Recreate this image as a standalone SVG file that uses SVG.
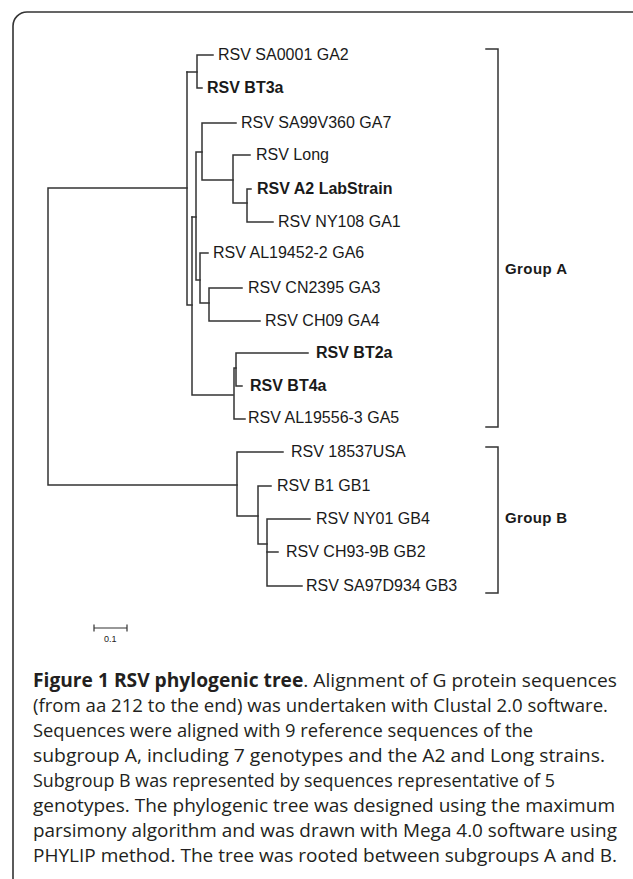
<svg xmlns="http://www.w3.org/2000/svg" width="633" height="879" viewBox="0 0 633 879">
<style>
.frame{fill:#fff;stroke:#333;stroke-width:1.6}
.br{fill:none;stroke:#333;stroke-width:1.5;stroke-linecap:square}
.lf{font-family:"Liberation Sans",Arial,sans-serif;font-size:16px;fill:#1a1a1a}
.b{font-weight:bold}
.grp{font-family:"Liberation Sans",Arial,sans-serif;font-size:15px;font-weight:bold;fill:#1a1a1a}
.cap{font-family:"Open Sans",sans-serif;font-size:19px;fill:#231f20}
.sc{font-family:"Liberation Sans",Arial,sans-serif;font-size:9px;fill:#222}
</style>
<rect class="frame" x="13" y="12" width="660" height="900" rx="14"/>
<g id="connectors" class="br">
<path d="M187,188 H48 V485 H237"/>
<path d="M187,72 V305 H192"/>
<path d="M187,72 H197"/>
<path d="M213,55 H197 V88 H202"/>
<path d="M192,217 V395 H233"/>
<path d="M192,217 H196"/>
<path d="M202,152 H196 V280 H200"/>
<path d="M236,123 H202 V180 H233"/>
<path d="M250,155 H233 V203 H247"/>
<path d="M251,189 H247 V222 H273"/>
<path d="M208,253 H200 V303 H209"/>
<path d="M242,288 H209 V321 H260"/>
<path d="M245,419 H234 V368 H236"/>
<path d="M308,353 H236 V386 H242"/>
<path d="M283,452 H237 V516 H258"/>
<path d="M271,486 H258 V544 H267"/>
<path d="M310,519 H267 V586 H302"/>
<path d="M267,552 H278"/>
<path d="M486,49 H498 V427 H486"/>
<path d="M486,447 H498 V593 H486"/>
<path d="M94,625 V631 M94,628 H127 M127,625 V631" stroke-width="1.2"/>
</g>
<g id="leaf-SA0001"><text class="lf" x="218" y="60">RSV SA0001 GA2</text></g>
<g id="leaf-BT3a"><text class="lf b" x="207" y="93">RSV BT3a</text></g>
<g id="leaf-SA99"><text class="lf" x="241" y="128">RSV SA99V360 GA7</text></g>
<g id="leaf-Long"><text class="lf" x="256" y="160">RSV Long</text></g>
<g id="leaf-A2"><text class="lf b" x="257" y="194">RSV A2 LabStrain</text></g>
<g id="leaf-NY108"><text class="lf" x="278" y="227">RSV NY108 GA1</text></g>
<g id="leaf-AL19452"><text class="lf" x="213" y="258">RSV AL19452-2 GA6</text></g>
<g id="leaf-CN2395"><text class="lf" x="248" y="293">RSV CN2395 GA3</text></g>
<g id="leaf-CH09"><text class="lf" x="265" y="326">RSV CH09 GA4</text></g>
<g id="leaf-BT2a"><text class="lf b" x="316" y="358">RSV BT2a</text></g>
<g id="leaf-BT4a"><text class="lf b" x="250" y="391">RSV BT4a</text></g>
<g id="leaf-AL19556"><text class="lf" x="248" y="423">RSV AL19556-3 GA5</text></g>
<g id="leaf-18537"><text class="lf" x="291" y="457">RSV 18537USA</text></g>
<g id="leaf-B1"><text class="lf" x="277" y="491">RSV B1 GB1</text></g>
<g id="leaf-NY01"><text class="lf" x="316" y="524">RSV NY01 GB4</text></g>
<g id="leaf-CH93"><text class="lf" x="286" y="557">RSV CH93-9B GB2</text></g>
<g id="leaf-SA97"><text class="lf" x="306" y="591">RSV SA97D934 GB3</text></g>
<g id="group-A"><text class="grp" x="505" y="274" textLength="62" lengthAdjust="spacing">Group A</text></g>
<g id="group-B"><text class="grp" x="505" y="523" textLength="62" lengthAdjust="spacing">Group B</text></g>
<g id="scale"><text class="sc" x="104" y="642">0.1</text></g>
<g id="caption">
<text class="cap" x="33" y="687" textLength="584" lengthAdjust="spacingAndGlyphs"><tspan font-weight="bold">Figure 1 RSV phylogenic tree</tspan>. Alignment of G protein sequences</text>
<text class="cap" x="33" y="712" textLength="575" lengthAdjust="spacingAndGlyphs">(from aa 212 to the end) was undertaken with Clustal 2.0 software.</text>
<text class="cap" x="33" y="737" textLength="500" lengthAdjust="spacingAndGlyphs">Sequences were aligned with 9 reference sequences of the</text>
<text class="cap" x="33" y="762" textLength="572" lengthAdjust="spacingAndGlyphs">subgroup A, including 7 genotypes and the A2 and Long strains.</text>
<text class="cap" x="33" y="787" textLength="522" lengthAdjust="spacingAndGlyphs">Subgroup B was represented by sequences representative of 5</text>
<text class="cap" x="33" y="812" textLength="582" lengthAdjust="spacingAndGlyphs">genotypes. The phylogenic tree was designed using the maximum</text>
<text class="cap" x="33" y="837" textLength="584" lengthAdjust="spacingAndGlyphs">parsimony algorithm and was drawn with Mega 4.0 software using</text>
<text class="cap" x="33" y="862" textLength="584" lengthAdjust="spacingAndGlyphs">PHYLIP method. The tree was rooted between subgroups A and B.</text>
</g>
</svg>
